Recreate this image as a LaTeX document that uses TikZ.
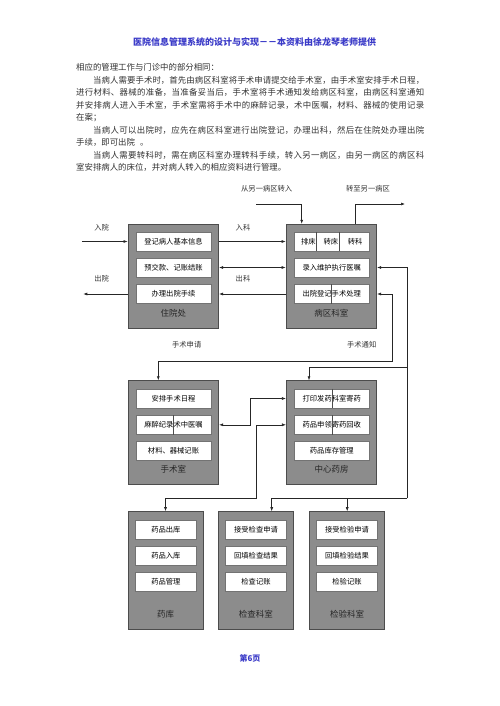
\documentclass[tikz,border=0pt]{standalone}
\usepackage{fontspec}
\setmainfont{Noto Sans CJK SC}
\usetikzlibrary{arrows.meta}
\XeTeXlinebreaklocale "zh"
\XeTeXlinebreakskip=0pt plus 2pt
\definecolor{deptgray}{HTML}{8C8C8C}
\definecolor{titleblue}{HTML}{3A3AC8}
\newcommand{\fullline}[1]{\parbox{348pt}{\parfillskip=0pt\relax\noindent#1}}
\tikzset{
  >={Latex[length=4pt,width=3pt]},
  dept/.style={draw=black!70, line width=1pt, fill=deptgray, inner sep=0pt,
    minimum width=90.5pt, minimum height=104pt},
  lowdept/.style={dept, minimum width=75pt, minimum height=117.6pt},
  func/.style={draw=black!55, line width=0.6pt, fill=white, inner sep=0pt,
    minimum width=75pt, minimum height=19pt, font=\fontsize{7.3}{8}\selectfont},
  lowfunc/.style={func, minimum width=60.5pt},
  deptname/.style={font=\fontsize{8.5}{10}\selectfont, text=black!85},
  note/.style={font=\fontsize{7.3}{8}\selectfont, text=black!80},
  body/.style={anchor=west, inner sep=0pt, font=\fontsize{8.4}{10}\selectfont, text=black!80},
  wire/.style={line width=0.6pt, draw=black!85},
  divider/.style={draw=black!70, line width=0.6pt},
}
\begin{document}
\begin{tikzpicture}[x=1pt,y=-1pt]
  \fill[white] (0,0) rectangle (499,706);
  \useasboundingbox (0,0) rectangle (499,706);

  % title and text
  \node[text=titleblue, font=\fontsize{9}{10}\selectfont\bfseries] (title) at (254.5,42) {医院信息管理系统的设计与实现－－本资料由徐龙琴老师提供};
  \node[body] (p1) at (76,67) {相应的管理工作与门诊中的部分相同：};
  \node[body] (p2) at (76,80) {\fullline{\hspace{2em}当病人需要手术时，首先由病区科室将手术申请提交给手术室，由手术室安排手术日程，}};
  \node[body] (p3) at (76,92.3) {\fullline{进行材料、器械的准备，当准备妥当后，手术室将手术通知发给病区科室，由病区科室通知}};
  \node[body] (p4) at (76,105) {\fullline{并安排病人进入手术室，手术室需将手术中的麻醉记录，术中医嘱，材料、器械的使用记录}};
  \node[body] (p5) at (76,117.3) {在案；};
  \node[body] (p6) at (76,130) {\fullline{\hspace{2em}当病人可以出院时，应先在病区科室进行出院登记，办理出科，然后在住院处办理出院}};
  \node[body] (p7) at (76,142.3) {手续，即可出院\hspace{0.6em}。};
  \node[body] (p8) at (76,155.5) {\fullline{\hspace{2em}当病人需要转科时，需在病区科室办理转科手续，转入另一病区，由另一病区的病区科}};
  \node[body] (p9) at (76,167.3) {室安排病人的床位，并对病人转入的相应资料进行管理。};

  % departments
  \node[dept] (zyc) at (173.3,276.3) {};
  \node[func] (zy1) at (173.5,241.5) {登记病人基本信息};
  \node[func] (zy2) at (173.5,267.5) {预交款、记账结账};
  \node[func] (zy3) at (173.5,294) {办理出院手续};
  \node[deptname] (zyct) at ([yshift=16pt]zyc.south) {住院处};

  \node[dept] (bqks) at (331.4,276.3) {};
  \node[func] (bq1) at (331.7,241.5) {排床\hspace{1.1em}转床\hspace{1.3em}转科};
  \node[func] (bq2) at (331.7,267.5) {录入维护执行医嘱};
  \node[func] (bq3) at (331.7,294) {出院登记手术处理};
  \node[deptname] (bqkst) at ([yshift=16pt]bqks.south) {病区科室};
  \draw[divider] (bq1.north -| 316.7,0) -- (bq1.south -| 316.7,0);
  \draw[divider] (bq1.north -| 339,0) -- (bq1.south -| 339,0);
  \draw[divider] (bq3.north) -- (bq3.south);

  \node[dept] (sss) at (173.3,432.8) {};
  \node[func] (ss1) at (173.5,398.5) {安排手术日程};
  \node[func] (ss2) at (173.5,424.8) {麻醉纪录术中医嘱};
  \node[func] (ss3) at (173.5,451.2) {材料、器械记账};
  \node[deptname] (ssst) at ([yshift=16pt]sss.south) {手术室};
  \draw[divider] (ss2.north) -- (ss2.south);

  \node[dept] (zxyf) at (331.7,432.8) {};
  \node[func] (yf1) at (331.8,398.5) {打印发药科室寄药};
  \node[func] (yf2) at (331.8,424.8) {药品申领寄药回收};
  \node[func] (yf3) at (331.8,451.2) {药品库存管理};
  \node[deptname] (zxyft) at ([yshift=16pt]zxyf.south) {中心药房};
  \draw[divider] (yf1.north) -- (yf1.south);
  \draw[divider] (yf2.north) -- (yf2.south);

  \node[lowdept] (yk) at (165.5,570.5) {};
  \node[lowfunc] (yk1) at (165.9,529.5) {药品出库};
  \node[lowfunc] (yk2) at (165.9,555.5) {药品入库};
  \node[lowfunc] (yk3) at (165.9,581.7) {药品管理};
  \node[deptname] (ykt) at ([yshift=16pt]yk.south) {药库};

  \node[lowdept] (jcks) at (255.8,570.5) {};
  \node[lowfunc] (jc1) at (256,529.5) {接受检查申请};
  \node[lowfunc] (jc2) at (256,555.5) {回填检查结果};
  \node[lowfunc] (jc3) at (256,581.7) {检查记账};
  \node[deptname] (jckst) at ([yshift=16pt]jcks.south) {检查科室};

  \node[lowdept] (jyks) at (347.2,570.5) {};
  \node[lowfunc] (jy1) at (347,529.5) {接受检验申请};
  \node[lowfunc] (jy2) at (347,555.5) {回填检验结果};
  \node[lowfunc] (jy3) at (347,581.7) {检验记账};
  \node[deptname] (jykst) at ([yshift=16pt]jyks.south) {检验科室};

  % labels on the wires
  \node[note] (ryt) at (101.7,227.7) {入院};
  \node[note] (cyt) at (101.7,279) {出院};
  \node[note] (rkt) at (243,227.7) {入科};
  \node[note] (ckt) at (243,279) {出科};
  \node[note] (zrt) at (266.7,188.3) {从另一病区转入};
  \node[note] (zct) at (368,188.3) {转至另一病区};
  \node[note] (sqt) at (186.7,345) {手术申请};
  \node[note] (tzt) at (361.7,345) {手术通知};

  \coordinate (ry) at ([xshift=-45.6pt]zyc.west |- zy1);
  \coordinate (cy) at ([xshift=-44.3pt]zyc.west |- zy3);
  \coordinate (zr) at (256,204);
  \coordinate (zc) at (405,204);
  \coordinate (ssb) at (392.3,361);
  \coordinate (tk1) at (407.3,367.7);
  \coordinate (tk2) at (407.3,498.3);

  \draw[wire,->] (ry) -- (zyc.west |- zy1); \draw[wire,->] (zyc.west |- zy3) -- (cy);
  \draw[wire,->] (zyc.east |- zy1) -- (bqks.west |- zy1); \draw[wire,<->] (zyc.east |- zy2) -- (bqks.west |- zy2); \draw[wire,->] (bqks.west |- zy3) -- (zyc.east |- zy3);
  \draw[wire,->] (zr) -| ([xshift=-29.7pt]bqks.north); \draw[wire,->] ([xshift=23.6pt]bqks.north) |- (zc);
  \draw[wire,<->] (bqks.east |- bq3) -| (ssb) -| ([xshift=-15pt]sss.north);
  \draw[wire,<-] (bqks.east |- bq2) -| (tk2);
  \draw[wire,->] (tk1) -| ([xshift=-22.7pt]zxyf.north);
  \draw[wire,->] (tk2) -| ([xshift=15.9pt]jcks.north); \draw[wire,->] (jyks.north |- tk2) -- (jyks.north);
  \draw[wire,<->] (sss.east |- ss2) -- ++(31,0) |- (zxyf.west |- yf1);
  \draw[wire,<->] (zxyf.west |- yf2) -- ++(-30,0) |- ([yshift=13.4pt]yk.north) -- (yk.north);

  \node[text=titleblue, font=\fontsize{8}{9}\selectfont\bfseries] (pageno) at (250,658) {第6页};
\end{tikzpicture}
\end{document}
